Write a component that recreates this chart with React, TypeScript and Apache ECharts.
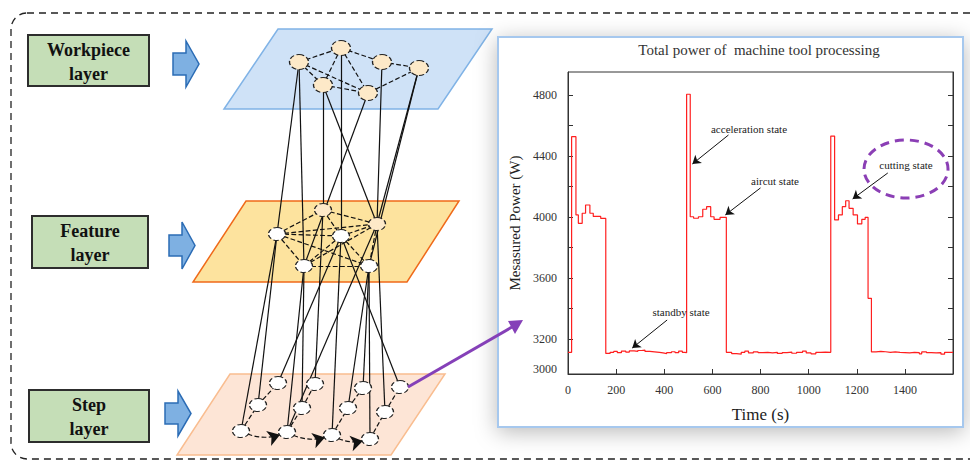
import React, { useEffect, useRef } from 'react';
import * as echarts from 'echarts';

// ---- Power curve (step data) ----
const timeSec = [
  0, 15, 33, 43, 59, 73, 91, 105, 136, 157,
  175, 190, 205, 222, 240, 255, 275, 290, 305, 320, 340, 360, 380, 395, 410, 430, 445, 460, 475, 485,
  493, 508, 522, 542, 560, 576, 593, 607, 632, 658,
  680, 700, 720, 735, 750, 770, 790, 810, 830, 850, 870, 890, 910, 930, 950, 975, 990, 1010, 1030, 1050, 1070,
  1092, 1108, 1124, 1140, 1154, 1168, 1185, 1203, 1221, 1235, 1247, 1261,
  1280, 1300, 1320, 1340, 1360, 1380, 1400, 1420, 1440, 1460, 1470, 1490, 1510, 1530, 1550, 1565, 1600,
];
const powerW = [
  3112, 4526, 4013, 3958, 4024, 4078, 4024, 4003, 3990, 3105,
  3112, 3118, 3110, 3120, 3114, 3122, 3118, 3124, 3126, 3118, 3115, 3112, 3108, 3104, 3110, 3116, 3110, 3120, 3112, 3110,
  4804, 4001, 3991, 4001, 4050, 4067, 4001, 3984, 3997, 3112,
  3104, 3100, 3112, 3120, 3108, 3115, 3110, 3112, 3108, 3112, 3105, 3110, 3114, 3106, 3112, 3120, 3108, 3102, 3112, 3114, 3112,
  4530, 3980, 4013, 4067, 4106, 4056, 4013, 3954, 3984, 3997, 3466, 3115,
  3118, 3116, 3112, 3115, 3112, 3110, 3108, 3112, 3110, 3102, 3115, 3110, 3108, 3110, 3100, 3112, 3112,
];

const yLabelValues = [3000, 3200, 3600, 4000, 4400, 4800];
const yTickValues = [3200, 3400, 3600, 3800, 4000, 4200, 4400, 4600, 4800];
const xLabelValues = [0, 200, 400, 600, 800, 1000, 1200, 1400];

// annotation arrows: [fromT, fromW, toT, toW]
const annotArrows = [
  [667, 4537, 517, 4347],
  [800, 4190, 654, 4013],
  [412, 3324, 267, 3140],
  [1329, 4288, 1183, 4118],
];
const annotTexts = ['acceleration state', 'aircut state', 'standby state', 'cutting state'];

// ---- Network diagram ----
const nodeNames = [
  'W1', 'W2', 'W3', 'W4', 'W5', 'W6',
  'F1', 'F2', 'F3', 'F4', 'F5', 'F6',
  'S1', 'S2', 'S3', 'S4', 'S5', 'S6', 'S7', 'S8', 'S9', 'S10', 'S11', 'S12',
];
const nodeX = [
  299, 341, 382, 419, 323, 368,
  323, 377, 277, 341, 304, 369,
  278, 315, 363, 400, 258, 302, 348, 385, 241, 287, 332, 370,
];
const nodeY = [
  62, 48, 62, 68, 85, 93,
  210, 224, 234, 236, 266, 266,
  383, 384, 388, 387, 405, 408, 408, 412, 431, 432, 435, 439,
];
const dashedLinks = [
  ['W1', 'W2'], ['W2', 'W3'], ['W3', 'W4'], ['W1', 'W5'], ['W1', 'W6'], ['W2', 'W5'], ['W2', 'W6'], ['W5', 'W6'], ['W4', 'W6'],
  ['F3', 'F1'], ['F1', 'F2'], ['F3', 'F4'], ['F3', 'F5'], ['F3', 'F6'], ['F1', 'F4'], ['F4', 'F2'], ['F4', 'F5'], ['F4', 'F6'],
  ['F5', 'F6'], ['F2', 'F5'], ['F2', 'F6'], ['F3', 'F2'],
  ['S9', 'S5'], ['S5', 'S1'], ['S10', 'S6'], ['S6', 'S2'], ['S11', 'S7'], ['S7', 'S3'], ['S12', 'S8'], ['S8', 'S4'],
];
const arrowLinks = [['S9', 'S10'], ['S10', 'S11'], ['S11', 'S12']];
const solidLinks = [
  ['W1', 'F3'], ['W1', 'F5'], ['W5', 'F1'], ['W5', 'F2'], ['W2', 'F4'], ['W6', 'F5'], ['W3', 'F2'], ['W4', 'F2'], ['W4', 'F6'],
  ['F3', 'S9'], ['F3', 'S5'], ['F5', 'S10'], ['F5', 'S6'], ['F1', 'S2'], ['F4', 'S1'], ['F4', 'S11'], ['F4', 'S4'],
  ['F2', 'S10'], ['F6', 'S3'], ['F6', 'S7'], ['F2', 'S8'], ['F6', 'S12'],
];
const creamNodes = ['W1', 'W2', 'W3', 'W4', 'W5', 'W6', 'F1', 'F2'];

const SERIF = '"Liberation Serif", "DejaVu Serif", serif';

function blockArrow(x0: number, xs: number, x1: number, yTop: number, yBot: number, shaftH: number) {
  const cy = (yTop + yBot) / 2;
  return [
    [x0, cy - shaftH / 2], [xs, cy - shaftH / 2], [xs, yTop], [x1, cy],
    [xs, yBot], [xs, cy + shaftH / 2], [x0, cy + shaftH / 2],
  ];
}

export default function App() {
  const ref = useRef<HTMLDivElement>(null);
  useEffect(() => {
    if (!ref.current) return;
    const chart = echarts.init(ref.current, null, { renderer: 'svg' });

    const nodes = nodeNames.map((n, i) => ({
      name: n,
      value: [nodeX[i], nodeY[i]],
      symbolSize: n.startsWith('W') ? [19, 15] : [17, 13],
      itemStyle: { color: creamNodes.includes(n) ? '#fde9c8' : '#ffffff' },
    }));
    const links = [
      ...solidLinks.map(([s, t]) => ({ source: s, target: t, lineStyle: { type: 'solid' as const } })),
      ...dashedLinks.map(([s, t]) => ({ source: s, target: t, lineStyle: { type: 'dashed' as const } })),
      ...arrowLinks.map(([s, t]) => ({
        source: s, target: t, symbol: ['none', 'arrow'], symbolSize: [0, 12],
        lineStyle: { type: 'dashed' as const, curveness: -0.25 },
      })),
    ];

    const textGraphics = annotTexts.map((t, i) => {
      const pos = [[749, 129], [775, 181], [681, 312], [906, 165]][i];
      return {
        type: 'text', x: pos[0], y: pos[1], z: 100,
        style: { text: t, fontFamily: SERIF, fontSize: 11, fill: '#222', align: 'center', verticalAlign: 'middle' },
      };
    });

    chart.setOption({
      animation: false,
      grid: [
        { left: 568, top: 72, width: 385, height: 302, show: true, z: 10, borderColor: '#333', borderWidth: 1, backgroundColor: 'transparent' },
        { left: 0, top: 0, width: 490, height: 460, show: false },
      ],
      xAxis: [
        {
          type: 'value', gridIndex: 0, min: 0, max: 1600, interval: 200, z: 10,
          name: 'Time (s)', nameLocation: 'middle', nameGap: 32,
          nameTextStyle: { fontFamily: SERIF, fontSize: 17, color: '#222' },
          axisLine: { show: true, lineStyle: { color: '#333', width: 1 } },
          axisTick: { show: true, inside: true, length: 5, lineStyle: { color: '#333' } },
          axisLabel: {
            customValues: xLabelValues, formatter: (v: number) => String(v),
            fontFamily: SERIF, fontSize: 12, color: '#333', margin: 10,
          },
          splitLine: { show: false },
        },
        { type: 'value', gridIndex: 1, min: 0, max: 490, show: false },
      ],
      yAxis: [
        {
          type: 'value', gridIndex: 0, min: 2970, max: 4950, position: 'left', z: 10,
          name: 'Mesasured Power (W)', nameLocation: 'middle', nameGap: 46,
          nameTextStyle: { fontFamily: SERIF, fontSize: 15, color: '#222' },
          axisLine: { show: true, lineStyle: { color: '#333', width: 1 } },
          axisTick: { show: true, inside: true, length: 5, customValues: yTickValues, lineStyle: { color: '#333' } },
          axisLabel: {
            customValues: yLabelValues, formatter: (v: number) => String(v),
            fontFamily: SERIF, fontSize: 12, color: '#333', margin: 11,
          },
          splitLine: { show: false },
        },
        {
          type: 'value', gridIndex: 0, min: 2970, max: 4950, position: 'right', z: 10,
          axisLine: { show: true, lineStyle: { color: '#333', width: 1 } },
          axisTick: { show: true, inside: true, length: 5, customValues: yTickValues, lineStyle: { color: '#333' } },
          axisLabel: { show: false },
          splitLine: { show: false },
        },
        { type: 'value', gridIndex: 1, min: 0, max: 460, inverse: true, show: false },
      ],
      series: [
        {
          type: 'line', xAxisIndex: 0, yAxisIndex: 0, step: 'end', showSymbol: false, symbol: 'none',
          data: timeSec.map((t, i) => [t, powerW[i]]),
          lineStyle: { color: '#ff1f1f', width: 1.2 },
          silent: true, z: 12,
          markLine: {
            silent: true, symbol: ['none', 'arrow'], symbolSize: 8,
            label: { show: false },
            lineStyle: { color: '#111', width: 1, type: 'solid' },
            data: annotArrows.map((a) => [{ coord: [a[0], a[1]] }, { coord: [a[2], a[3]] }]),
          },
        },
        {
          type: 'graph', coordinateSystem: 'cartesian2d', xAxisIndex: 1, yAxisIndex: 2,
          symbol: 'path://M50,0A50,50,0,1,1,50,100A50,50,0,1,1,50,0Z',
          silent: true, z: 3,
          label: { show: false },
          itemStyle: { borderColor: '#222', borderWidth: 1.2, borderType: 'dashed' },
          lineStyle: { color: '#111', width: 1.2, opacity: 1 },
          data: nodes,
          links,
        },
      ],
      graphic: [
        {
          type: 'rect', z: 0, shape: { x: 11, y: 13, width: 1000, height: 446, r: 16 },
          style: { fill: 'none', stroke: '#222', lineWidth: 1.3, lineDash: [7, 5] },
        },
        // left labels
        ...[
          [28, 35, 121, 51, 'Workpiece\nlayer'],
          [32, 216, 116, 52, 'Feature\nlayer'],
          [29, 390, 120, 52, 'Step\nlayer'],
        ].flatMap(([x, y, w, h, t]) => [
          {
            type: 'rect', z: 1, shape: { x, y, width: w, height: h },
            style: { fill: '#c5deb7', stroke: '#2d2d2d', lineWidth: 2 },
          },
          {
            type: 'text', z: 2, x: (x as number) + (w as number) / 2, y: (y as number) + (h as number) / 2 + 1,
            style: {
              text: t, fontFamily: SERIF, fontWeight: 'bold', fontSize: 18, lineHeight: 24,
              fill: '#111', align: 'center', verticalAlign: 'middle',
            },
          },
        ]),
        // block arrows
        ...[
          blockArrow(173, 186, 199, 41, 87, 22),
          blockArrow(169, 182, 195, 222, 269, 21),
          blockArrow(165, 178, 191, 391, 436, 21),
        ].map((pts) => ({
          type: 'polygon', z: 1, shape: { points: pts },
          style: { fill: '#7eb0e2', stroke: '#2b6cb5', lineWidth: 1.5 },
        })),
        // planes
        {
          type: 'polygon', z: 0, shape: { points: [[278, 29], [492, 29], [438, 109], [224, 109]] },
          style: { fill: '#cfe2f7', stroke: '#80b3e6', lineWidth: 1.5 },
        },
        {
          type: 'polygon', z: 0, shape: { points: [[246, 201], [459, 201], [407, 282], [193, 282]] },
          style: { fill: '#fde39e', stroke: '#ef6a1a', lineWidth: 1.5 },
        },
        {
          type: 'polygon', z: 0, shape: { points: [[230, 374], [445, 374], [391, 455], [177, 455]] },
          style: { fill: '#fde5d6', stroke: '#f9bd90', lineWidth: 1.5 },
        },
        // chart panel
        {
          type: 'rect', z: 1, shape: { x: 498, y: 37, width: 465, height: 390 },
          style: {
            fill: '#ffffff', stroke: '#a6c8ee', lineWidth: 2,
            shadowBlur: 22, shadowColor: 'rgba(0,0,0,0.28)', shadowOffsetX: 0, shadowOffsetY: 4,
          },
        },
        {
          type: 'text', z: 100, x: 759, y: 50,
          style: { text: 'Total power of  machine tool processing', fontFamily: SERIF, fontSize: 15, fill: '#333', align: 'center', verticalAlign: 'middle' },
        },
        ...textGraphics,
        {
          type: 'ellipse', z: 100, shape: { cx: 906, cy: 169, rx: 42, ry: 29 },
          style: { fill: 'none', stroke: '#8b3fb5', lineWidth: 3, lineDash: [9, 6] },
        },
        // purple pointer
        {
          type: 'line', z: 100, shape: { x1: 408, y1: 387, x2: 512, y2: 327 },
          style: { stroke: '#8540b8', lineWidth: 3 },
        },
        {
          type: 'polygon', z: 100, shape: { points: [[523, 320], [508, 321], [515, 334]] },
          style: { fill: '#8540b8' },
        },
      ],
    });
    return () => chart.dispose();
  }, []);
  return <div ref={ref} style={{ position: 'fixed', left: 0, top: 0, width: 970, height: 460, background: '#fff' }} />;
}
